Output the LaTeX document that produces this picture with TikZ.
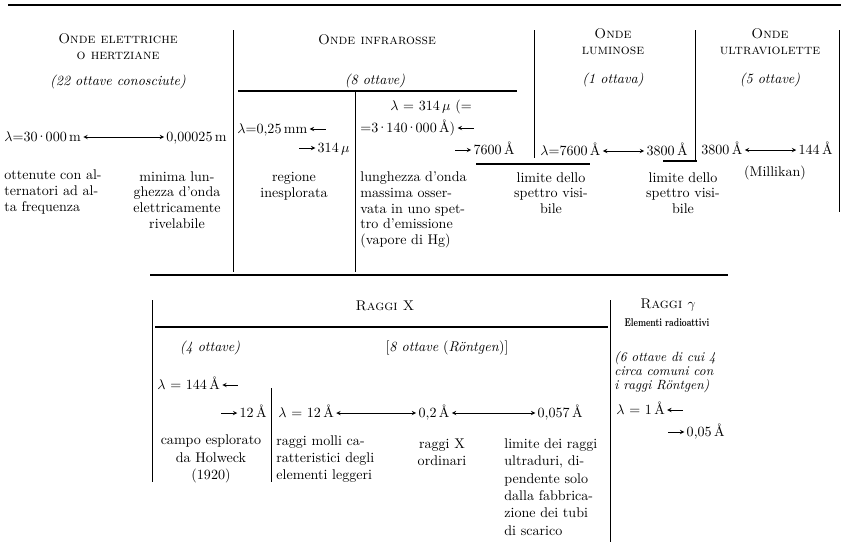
\documentclass[tikz,border=0pt]{standalone}
\usepackage{graphicx}
\usepackage{tikz}
\usetikzlibrary{arrows,positioning}
\newcommand{\Ang}{\,\AA}
\newcommand{\md}{\kern-0.1em·\kern-0.1em}

\begin{document}
\begin{tikzpicture}[x=0.025cm,y=-0.025cm,>=stealth,
    every node/.style={inner sep=1.5pt},
    txt/.style={font=\fontsize{10}{11.2}\selectfont},
    lowtxt/.style={font=\fontsize{10}{12.4}\selectfont},
    val/.style={font=\fontsize{10}{11}\selectfont,text height=8pt,text depth=2pt},
    head/.style={font=\fontsize{10}{11.5}\selectfont\scshape,align=center},
    oct/.style={font=\fontsize{10}{11}\selectfont\itshape},
    rule/.style={line width=1.1pt},
    sep/.style={line width=0.5pt},
    arr/.style={<->,line width=0.4pt}]
    \useasboundingbox (0,0) rectangle (841,542);
    \draw[line width=1.5pt] (8,5) -- (841,5);
    \node[head] (hElet) at (118,47) {Onde elettriche\\o hertziane};
    \node[oct] (oElet) at (118,82) {(22 ottave conosciute)};
    \node[head] (hInfra) at (377,40) {Onde infrarosse};
    \node[oct] (oInfra) at (375,81) {(8 ottave)};
    \node[head] (hLum) at (613,42) {Onde\\luminose};
    \node[oct] (oLum) at (613,80) {(1 ottava)};
    \node[head] (hUltra) at (770,42) {Onde\\ultraviolette};
    \node[oct] (oUltra) at (770,80) {(5 ottave)};
    % onde elettriche
    \node[val,anchor=west] (elA) at (2,137) {$\lambda$=30\md000\,m};
    \node[val,anchor=east] (elB) at (229,137) {0,00025\,m};
    \draw[arr] (elA) -- (elB);
    \node[txt,align=left,anchor=west] (elN1) at (2,192) {ottenute con al-\\ternatori ad al-\\ta frequenza};
    \node[txt,align=center] (elN2) at (177,200) {minima lun-\\ghezza d'onda\\elettricamente\\rivelabile};
    % onde infrarosse
    \node[val,anchor=west] (irA) at (235,129) {$\lambda$=0,25\,mm};
    \coordinate[right=4mm of irA] (irAs);
    \node[val,anchor=east] (irB) at (352,148) {314\,$\mu$};
    \coordinate[left=4mm of irB] (irBs);
    \draw[<-] (irA) -- (irAs);
    \draw[->] (irBs) -- (irB);
    \node[txt,align=center] (irN) at (294,186) {regione\\inesplorata};
    \node[val] (ir2L) at (431,106) {$\lambda$ = 314\,$\mu$ (=};
    \node[val,anchor=west] (ir2A) at (358,128) {=3\md140\md000\Ang)};
    \coordinate[right=4mm of ir2A] (ir2As);
    \node[val,anchor=east] (ir2B) at (517,150) {7600\Ang};
    \coordinate[left=4mm of ir2B] (ir2Bs);
    \draw[<-] (ir2A) -- (ir2As);
    \draw[->] (ir2Bs) -- (ir2B);
    \node[txt,align=left,anchor=west] (ir2N) at (358,210) {lunghezza d'onda\\massima osser-\\vata in uno spet-\\tro d'emissione\\(vapore di Hg)};
    % onde luminose
    \node[val,anchor=west] (luA) at (538,151) {$\lambda$=7600\Ang};
    \node[val,anchor=east] (luB) at (690,151) {3800\Ang};
    \draw[arr] (luA) -- (luB);
    \node[txt,align=center] (luN1) at (551,193) {limite dello\\spettro visi-\\bile};
    \node[txt,align=center] (luN2) at (683,193) {limite dello\\spettro visi-\\bile};
    % onde ultraviolette
    \node[val,anchor=west] (uvA) at (699,150) {3800\Ang};
    \node[val,anchor=east] (uvB) at (835,150) {144\Ang};
    \draw[arr] (uvA) -- (uvB);
    \node[txt] (uvN) at (775,173) {(Millikan)};
    \draw[sep] (233,30) -- (233,272);
    \draw[sep] (355,92) -- (355,272);
    \draw[sep] (534,30) -- (534,158);
    \draw[sep] (695,30) -- (695,162);
    \draw[sep] (839,30) -- (839,212);
    \draw[rule] (238,91) -- (517,91);
    \draw[rule] (476,164) -- (590,164);
    \draw[rule] (663,161) -- (697,161);
    \draw[rule] (150,275) -- (728,275);
    % raggi X
    \draw[sep] (152,300) -- (152,482);
    \draw[rule] (155,327) -- (608,327);
    \draw[sep] (610,300) -- (610,542);
    \draw[sep] (271,388) -- (271,482);
    \node[head] (hX) at (385,306) {Raggi X};
    \node[oct] (oX1) at (210,348) {(4 ottave)};
    \node[txt] (oX2) at (447,348) {[\textit{8 ottave} (\textit{Röntgen})]};
    \node[val,anchor=west] (xA) at (155,385) {$\lambda$ = 144\Ang};
    \coordinate[right=4mm of xA] (xAs);
    \node[val,anchor=east] (xB) at (269,413) {12\Ang};
    \coordinate[left=4mm of xB] (xBs);
    \draw[<-] (xA) -- (xAs);
    \draw[->] (xBs) -- (xB);
    \node[lowtxt,align=center] (xN1) at (211,459) {campo esplorato\\da Holweck\\(1920)};
    \node[val,anchor=west] (xC) at (276,413) {$\lambda$ = 12\Ang};
    \node[val] (xD) at (434,413) {0,2\Ang};
    \node[val,anchor=east] (xE) at (585,413) {0,057\Ang};
    \draw[arr] (xC) -- (xD);
    \draw[arr] (xD) -- (xE);
    \node[lowtxt,align=left,anchor=west] (xN2) at (274,459) {raggi molli ca-\\ratteristici degli\\elementi leggeri};
    \node[lowtxt,align=center] (xN3) at (442,452) {raggi X\\ordinari};
    \node[lowtxt,align=left,anchor=west] (xN4) at (502,487) {limite dei raggi\\ultraduri, di-\\pendente solo\\dalla fabbrica-\\zione dei tubi\\di scarico};
    % raggi gamma
    \node[head] (hG) at (668,305) {Raggi $\gamma$};
    \node[font=\fontsize{8}{9}\selectfont\bfseries] (hG2) at (667,323) {\scalebox{0.7}[1]{Elementi radioattivi}};
    \node[oct,font=\fontsize{9.5}{10}\selectfont\itshape,align=left,anchor=west] (oG) at (612,372) {(6 ottave di cui 4\\circa comuni con\\i raggi Röntgen)};
    \node[val,anchor=west] (gA) at (614,410) {$\lambda$ = 1\Ang};
    \coordinate[right=4mm of gA] (gAs);
    \node[val,anchor=east] (gB) at (727,432) {0,05\Ang};
    \coordinate[left=4mm of gB] (gBs);
    \draw[<-] (gA) -- (gAs);
    \draw[->] (gBs) -- (gB);
\end{tikzpicture}
\end{document}
